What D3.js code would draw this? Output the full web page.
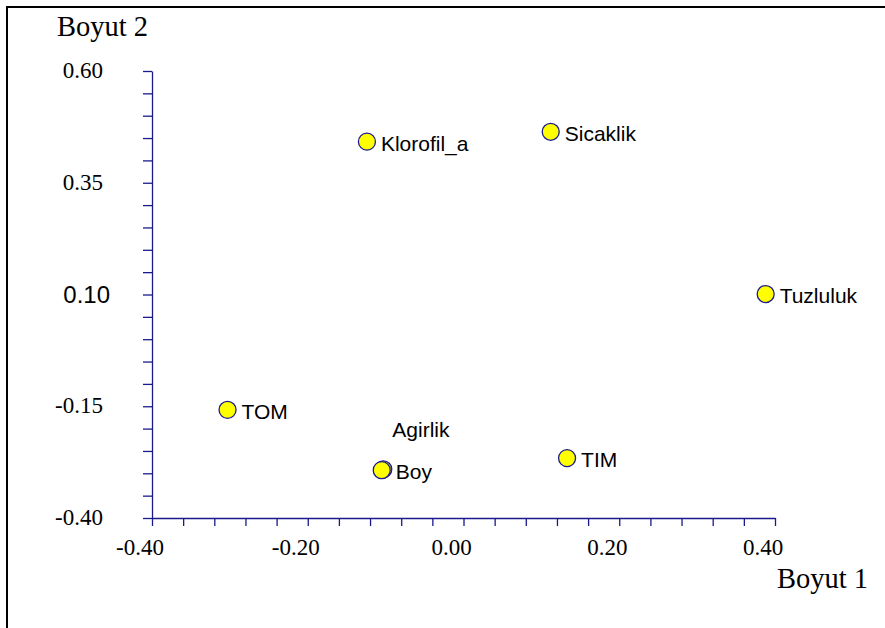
<!DOCTYPE html>
<html>
<head>
<meta charset="utf-8">
<script src="https://cdn.jsdelivr.net/npm/d3@7"></script>
<style>
  body { margin: 0; background: white; }
</style>
</head>
<body>
<div id="canvas"></div>
<script>
"use strict"

/* Data */
let names = ["Klorofil_a", "Sicaklik", "Tuzluluk", "TOM", "Agirlik", "Boy", "TIM"];
let dim1 = [-0.124, 0.112, 0.388, -0.303, -0.103, -0.105, 0.133];
let dim2 = [0.442, 0.464, 0.101, -0.158, -0.291, -0.293, -0.266];

let xTickValues = [-0.40, -0.20, 0.00, 0.20, 0.40];
let xTickLabels = ["-0.40", "-0.20", "0.00", "0.20", "0.40"];
let yTickValues = [0.60, 0.35, 0.10, -0.15, -0.40];
let yTickLabels = ["0.60", "0.35", "0.10", "-0.15", "-0.40"];

/* drawing config */
let svgWidth = 885;
let svgHeight = 628;
let axisColor = "#1a1a8c";
let serif = "'Liberation Serif', 'Times New Roman', serif";
let sans = "'Liberation Sans', Arial, sans-serif";

let svg = d3.select("#canvas")
    .append("svg")
    .attr("width", svgWidth)
    .attr("height", svgHeight);

/* frame - only left and top edges show */
svg.append("rect")
    .attr("x", 7)
    .attr("y", 7)
    .attr("width", svgWidth + 20)
    .attr("height", svgHeight + 20)
    .attr("fill", "none")
    .attr("stroke", "black")
    .attr("stroke-width", 2);

let xScale = d3.scaleLinear()
    .domain([-0.4, 0.4])
    .range([152, 775]);

let yScale = d3.scaleLinear()
    .domain([-0.4, 0.6])
    .range([518, 71]);

/* minor ticks: x every 0.04, y every 0.05 */
let xMinor = d3.range(21).map(i => -0.4 + i * 0.04);
let yMinor = d3.range(21).map(i => -0.4 + i * 0.05);

let yAxis = svg.append("g")
    .attr("transform", "translate(" + xScale(-0.4) + ",0)")
    .call(d3.axisLeft(yScale).tickValues(yMinor).tickSize(9).tickSizeOuter(0).tickFormat(""));

let xAxis = svg.append("g")
    .attr("transform", "translate(0," + yScale(-0.4) + ")")
    .call(d3.axisBottom(xScale).tickValues(xMinor).tickSize(8).tickSizeOuter(0).tickFormat(""));

svg.selectAll(".domain, .tick line")
    .attr("stroke", axisColor)
    .attr("stroke-width", 1.3);

/* tick labels */
for (let i = 0; i < xTickValues.length; i++) {
    svg.append("text")
        .attr("x", xScale(xTickValues[i]) - 12)
        .attr("y", yScale(-0.4) + 37)
        .attr("text-anchor", "middle")
        .attr("font-family", serif)
        .attr("font-size", 23)
        .text(xTickLabels[i]);
}

for (let i = 0; i < yTickValues.length; i++) {
    // the 0.10 label is set in a sans font in the original
    let isSans = yTickLabels[i] == "0.10";
    svg.append("text")
        .attr("x", isSans ? 110 : 103)
        .attr("y", yScale(yTickValues[i]) + (isSans ? 8 : 7))
        .attr("text-anchor", "end")
        .attr("font-family", isSans ? sans : serif)
        .attr("font-size", isSans ? 24 : 23)
        .text(yTickLabels[i]);
}

/* axis titles */
svg.append("text")
    .attr("x", 57)
    .attr("y", 36)
    .attr("font-family", serif)
    .attr("font-size", 28.5)
    .text("Boyut 2");

svg.append("text")
    .attr("x", 777)
    .attr("y", 588)
    .attr("font-family", serif)
    .attr("font-size", 28.5)
    .text("Boyut 1");

/* points */
let points = names.map((n, i) => ({ name: n, x: dim1[i], y: dim2[i] }));

svg.selectAll("circle.pt")
    .data(points)
    .join("circle")
    .attr("class", "pt")
    .attr("cx", d => xScale(d.x))
    .attr("cy", d => yScale(d.y))
    .attr("r", 8.5)
    .attr("fill", "#ffff00")
    .attr("stroke", "#1a1a8c")
    .attr("stroke-width", 1.3);

svg.selectAll("text.lbl")
    .data(points)
    .join("text")
    .attr("class", "lbl")
    .attr("x", d => xScale(d.x) + (d.name == "Agirlik" ? 9 : 14))
    .attr("y", d => yScale(d.y) + (d.name == "Agirlik" ? -32 : 9))
    .attr("font-family", sans)
    .attr("font-size", 21)
    .text(d => d.name);
</script>
</body>
</html>
